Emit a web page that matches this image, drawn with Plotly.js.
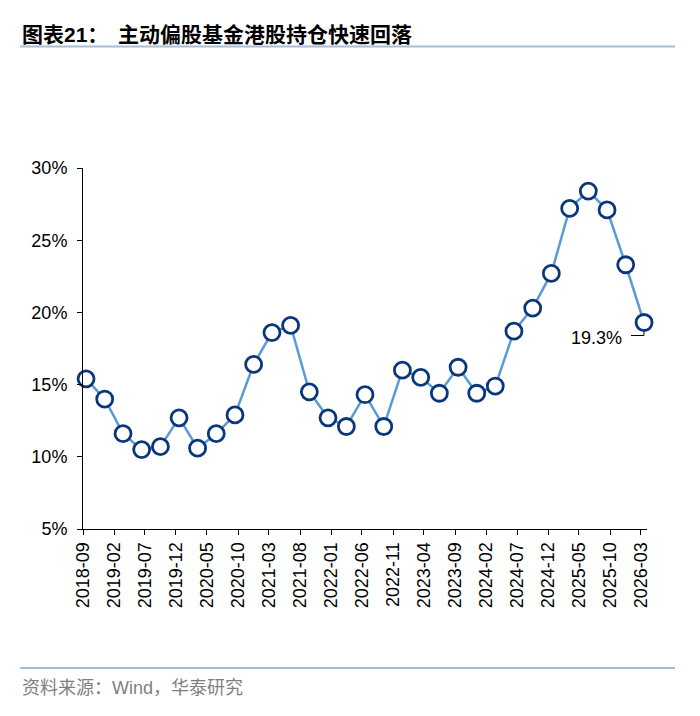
<!DOCTYPE html>
<html>
<head>
<meta charset="utf-8">
<script src="https://cdn.plot.ly/plotly-3.0.1.min.js"></script>
<style>
  html, body { margin: 0; padding: 0; background: #fff; }
  #chart { width: 700px; height: 716px; }
</style>
</head>
<body>
<div id="chart"></div>
<script>
// quarter-end holdings, share of HK stocks in active equity funds (%)
const periods = [
  '2018-09', '2018-12', '2019-03', '2019-06', '2019-09', '2019-12',
  '2020-03', '2020-06', '2020-09', '2020-12', '2021-03', '2021-06',
  '2021-09', '2021-12', '2022-03', '2022-06', '2022-09', '2022-12',
  '2023-03', '2023-06', '2023-09', '2023-12', '2024-03', '2024-06',
  '2024-09', '2024-12', '2025-03', '2025-06', '2025-09', '2025-12',
  '2026-03'
];
const hkShare = [
  15.4, 14.0, 11.6, 10.5, 10.7, 12.7,
  10.6, 11.6, 12.9, 16.4, 18.6, 19.1,
  14.5, 12.7, 12.1, 14.3, 12.1, 16.0,
  15.5, 14.4, 16.2, 14.4, 14.9, 18.7,
  20.3, 22.7, 27.2, 28.4, 27.1, 23.3,
  19.3
];
const yTicks = [5, 10, 15, 20, 25, 30];

const titleText = '<b>图表<span style="font-family:Liberation Sans, Arial">21</span>：  主动偏股基金港股持仓快速回落</b>';
const sourceText = '资料来源：<span style="font-family:Liberation Sans, Arial">Wind</span>，华泰研究';

const lastIdx = periods.length - 1;

// plot area is 83..647 px wide, 168..529 px tall
const px = (v) => (v - 83) / 564;
const py = (v) => (529 - v) / 361;

const trace = {
  x: periods,
  y: hkShare,
  xperiod: 'M1',
  xperiodalignment: 'middle',
  type: 'scatter',
  mode: 'lines+markers',
  cliponaxis: false,
  line: { color: '#5b9bd5', width: 2.5 },
  marker: {
    size: 16,
    color: '#ffffff',
    line: { color: '#0a377a', width: 2.8 }
  },
  hoverinfo: 'skip'
};

const layout = {
  width: 700,
  height: 716,
  margin: { l: 83, r: 53, t: 168, b: 187 },
  paper_bgcolor: '#ffffff',
  plot_bgcolor: '#ffffff',
  showlegend: false,
  font: { family: 'Liberation Sans, Arial, sans-serif', size: 18, color: '#000' },
  xaxis: {
    type: 'date',
    range: ['2018-09-01', '2026-03-31'],
    tick0: '2018-09-01',
    dtick: 'M5',
    tickformat: '%Y-%m',
    tickangle: -90,
    ticks: 'outside',
    ticklen: 5,
    tickcolor: '#000',
    showline: true,
    linecolor: '#000',
    linewidth: 1,
    showgrid: false,
    zeroline: false,
    tickfont: { size: 18 }
  },
  yaxis: {
    range: [5, 30],
    tickvals: yTicks,
    ticktext: yTicks.map(v => v + '%'),
    ticks: 'outside',
    ticklen: 5,
    tickcolor: '#000',
    showline: true,
    linecolor: '#000',
    linewidth: 1,
    showgrid: false,
    zeroline: false,
    ticklabelstandoff: 6,
    tickfont: { size: 18 }
  },
  shapes: [
    { type: 'line', xref: 'paper', yref: 'paper', x0: px(20), x1: px(675), y0: py(46.5), y1: py(46.5),
      line: { color: '#a9bcd6', width: 2 } },
    { type: 'line', xref: 'paper', yref: 'paper', x0: px(20), x1: px(675), y0: py(668), y1: py(668),
      line: { color: '#a9bcd6', width: 2 } },
    // elbow leader from the label to the last point
    { type: 'path', xref: 'x', yref: 'y', xsizemode: 'pixel', ysizemode: 'pixel',
      xanchor: '2026-03-16', yanchor: hkShare[lastIdx],
      path: 'M -13 -13 L 0 -13 L 0 0', layer: 'below',
      line: { color: '#000', width: 1 } }
  ],
  annotations: [
    { xref: 'paper', yref: 'paper', x: px(20), y: py(33), xanchor: 'left', yanchor: 'middle',
      text: titleText, showarrow: false,
      font: { family: 'Noto Sans CJK SC, Liberation Sans, sans-serif', size: 21, color: '#000' } },
    { xref: 'paper', yref: 'paper', x: px(20), y: py(686), xanchor: 'left', yanchor: 'middle',
      text: sourceText, showarrow: false,
      font: { family: 'Noto Sans CJK SC, Liberation Sans, sans-serif', size: 18, color: '#7f7f7f' } },
    { xref: 'x', yref: 'y', x: '2026-03-16', y: hkShare[lastIdx], xanchor: 'right', yanchor: 'middle',
      xshift: -20, yshift: -15, showarrow: false,
      text: hkShare[lastIdx].toFixed(1) + '%',
      font: { size: 18, color: '#000' } }
  ]
};

Plotly.newPlot('chart', [trace], layout, { displayModeBar: false, staticPlot: true });
</script>
</body>
</html>
